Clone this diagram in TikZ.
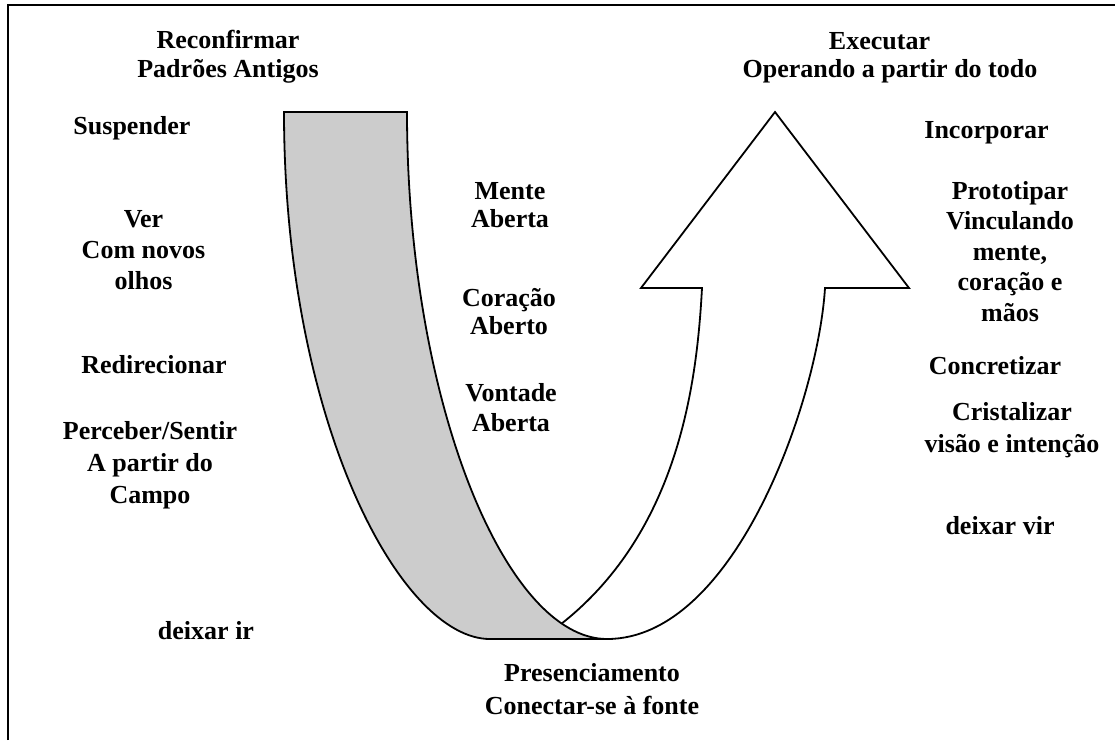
\documentclass[tikz,border=0pt]{standalone}
\usepackage{fontspec}
\setmainfont{Liberation Serif}
\begin{document}
\begin{tikzpicture}[x=1pt,y=-1pt,
  lbl/.style={font=\fontsize{26}{#1}\selectfont\bfseries, align=center, anchor=base, inner sep=0pt},
  lbl/.default=31,
  frame/.style={line width=2.5pt},
  band/.style={fill=black!20, draw=black, line width=1.8pt, line join=miter},
  uparrow/.style={draw=black, line width=1.8pt, line join=miter}]
\useasboundingbox (0,0) rectangle (1115,740);

% open frame: top and left edges only
\draw[frame] (8,740) -- (8,5) -- (1115,5);

% grey descending band
\draw[band] (284,112) .. controls (284,420) and (400,639) .. (490,639)
  -- (607,639) .. controls (505,639) and (407,400) .. (407,112) coordinate[pos=0.15] (j)
  -- cycle;

% white rising arrow
\draw[uparrow] (j) .. controls (680,530) and (697,380) .. (702,288)
  -- (641,288) -- (775,112) -- (909,288) -- (825,288)
  .. controls (818,400) and (735,639) .. (607,639);

% left column (multi-line nodes are anchored at the baseline of their last line)
\node[lbl=29] (reconf) at (228,77) {Reconfirmar\\Padrões Antigos};
\node[lbl] (susp) at (132,134) {Suspender};
\node[lbl] (ver) at (143.5,289) {Ver\\Com novos\\olhos};
\node[lbl] (redir) at (154,373) {Redirecionar};
\node[lbl=32] (perc) at (150,503) {Perceber/Sentir\\A partir do\\Campo};
\node[lbl] (deixir) at (206,639) {deixar ir};

% middle column
\node[lbl=28] (mente) at (510,227) {Mente\\Aberta};
\node[lbl=28] (cor) at (509,334) {Coração\\Aberto};
\node[lbl=30] (vont) at (511,431) {Vontade\\Aberta};
\node[lbl=33] (pres) at (592,714) {Presenciamento\\Conectar-se à fonte};

% right column
\node[lbl=28] (exec) at (890,77) {Executar\hspace*{21pt}\\Operando a partir do todo};
\node[lbl] (incorp) at (986.5,138) {Incorporar};
\node[lbl=30.5] (proto) at (1010,321) {Prototipar\\Vinculando\\mente,\\coração e\\mãos};
\node[lbl] (concr) at (995,374) {Concretizar};
\node[lbl=32] (crist) at (1012,452) {Cristalizar\\visão e intenção};
\node[lbl] (deixvir) at (1000,534) {deixar vir};
\end{tikzpicture}
\end{document}
